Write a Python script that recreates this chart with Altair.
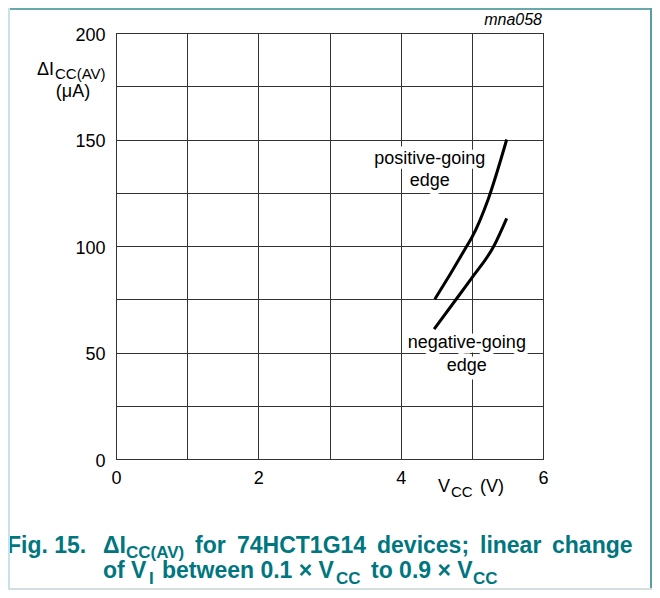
import altair as alt
import pandas as pd

# ---- data ----
vcc_pos = [4.48, 4.70, 4.93, 5.00, 5.23, 5.49]
icc_pos = [75, 87, 100, 104, 122, 150]
vcc_neg = [4.47, 4.78, 5.00, 5.31, 5.49]
icc_neg = [61, 75, 85, 100, 113]
x_ticks = [0, 1, 2, 3, 4, 5, 6]
y_ticks = [0, 25, 50, 75, 100, 125, 150, 175, 200]

curve_names = ["positive-going edge", "negative-going edge"]
label_lines = [["positive-going", "edge"], ["negative-going", "edge"]]
label_x = [4.41, 4.93]
label_y = [[138.5, 128.2], [52.1, 41.3]]

FONT = "Liberation Sans"
TEAL = "#00767f"

rows = []
for v, i in zip(vcc_pos, icc_pos):
    rows.append({"vcc": v, "icc": i, "edge": curve_names[0]})
for v, i in zip(vcc_neg, icc_neg):
    rows.append({"vcc": v, "icc": i, "edge": curve_names[1]})
curves = pd.DataFrame(rows)

lab_rows = []
for k in range(2):
    for j, t in enumerate(label_lines[k]):
        lab_rows.append({"vcc": label_x[k], "icc": label_y[k][j], "t": t})
labels = pd.DataFrame(lab_rows)

PX0, PY0 = 116, 33  # page position of plot origin

xs = alt.Scale(domain=[0, 6], nice=False, zero=True)
ys = alt.Scale(domain=[0, 200], nice=False, zero=True)

x_axis = alt.Axis(values=x_ticks, format="d",
                  labelExpr="datum.value % 2 == 0 ? datum.label : ''",
                  title=None, grid=True, ticks=False, domain=False, labelPadding=10,
                  labelAngle=0, labelFlush=False)
y_axis = alt.Axis(values=y_ticks, format="d",
                  labelExpr="datum.value % 50 == 0 ? datum.label : ''",
                  title=None, grid=True, ticks=False, domain=False, labelPadding=11,
                  labelOffset=2, labelFlush=False)

lines = alt.Chart(curves).mark_line(color="black", strokeWidth=3, interpolate="monotone").encode(
    x=alt.X("vcc:Q", scale=xs, axis=x_axis),
    y=alt.Y("icc:Q", scale=ys, axis=y_axis),
    detail="edge:N",
)

halo = alt.Chart(labels).mark_text(font=FONT, fontSize=18, align="center", baseline="alphabetic",
                                   stroke="white", strokeWidth=9, color="white").encode(
    x=alt.X("vcc:Q", scale=xs), y=alt.Y("icc:Q", scale=ys), text="t:N")
txt = alt.Chart(labels).mark_text(font=FONT, fontSize=18, align="center", baseline="alphabetic",
                                  color="black").encode(
    x=alt.X("vcc:Q", scale=xs), y=alt.Y("icc:Q", scale=ys), text="t:N")


def ptext(t, px, py, size, weight="normal", style="normal", color="black", align="left"):
    return alt.Chart(alt.Data(values=[{}])).mark_text(
        text=t, font=FONT, fontSize=size, fontWeight=weight, fontStyle=style,
        color=color, align=align, baseline="alphabetic").encode(
        x=alt.value(px - PX0), y=alt.value(py - PY0))


def hrule(px1, px2, py, color, w):
    return alt.Chart(alt.Data(values=[{}])).mark_rule(color=color, strokeWidth=w).encode(
        x=alt.value(px1 - PX0), x2=alt.value(px2 - PX0), y=alt.value(py - PY0))


def vrule(px, py1, py2, color, w):
    return alt.Chart(alt.Data(values=[{}])).mark_rule(color=color, strokeWidth=w).encode(
        x=alt.value(px - PX0), y=alt.value(py1 - PY0), y2=alt.value(py2 - PY0))


CAP, SUB = 23, 17
texts = [
    ptext("ΔI", 37, 75, 18),
    ptext("CC(AV)", 55, 79, 15),
    ptext("(μA)", 73, 97, 18, align="center"),
    ptext("V", 438, 492, 18),
    ptext("CC", 451, 497, 15),
    ptext("(V)", 480, 492, 18),
    ptext("mna058", 542, 25, 16, style="italic", align="right"),
    ptext("Fig. 15.", 7, 553, CAP, weight="bold", color=TEAL),
    ptext("ΔI", 103, 553, CAP, weight="bold", color=TEAL),
    ptext("CC(AV)", 126, 558, SUB, weight="bold", color=TEAL),
    ptext("for", 195, 553, CAP, weight="bold", color=TEAL),
    ptext("74HCT1G14", 237, 553, CAP, weight="bold", color=TEAL),
    ptext("devices;", 377, 553, CAP, weight="bold", color=TEAL),
    ptext("linear", 480, 553, CAP, weight="bold", color=TEAL),
    ptext("change", 552, 553, CAP, weight="bold", color=TEAL),
    ptext("of V", 103, 578, CAP, weight="bold", color=TEAL),
    ptext("I", 149, 584, SUB, weight="bold", color=TEAL),
    ptext("between 0.1 × V", 162, 578, CAP, weight="bold", color=TEAL),
    ptext("CC", 336, 584, SUB, weight="bold", color=TEAL),
    ptext("to 0.9 × V", 371, 578, CAP, weight="bold", color=TEAL),
    ptext("CC", 473, 584, SUB, weight="bold", color=TEAL),
]

frame = [
    hrule(8, 652, 9, "#6aa7ab", 2),
    vrule(9, 8, 590, "#c7e3e5", 2),
    vrule(651, 8, 590, "#5a9ea4", 2),
    hrule(8, 652, 589, "#d5dfe0", 2),
]

chart = alt.layer(lines, halo, txt, *texts, *frame).properties(
    width=427, height=426,
    padding={"left": 108, "top": 25, "right": 109, "bottom": 131},
    autosize=alt.AutoSizeParams(type="none"),
    background="white",
).configure_view(stroke="black", strokeWidth=1).configure_axis(
    gridColor="#333", gridWidth=1, gridOpacity=1,
    labelFont=FONT, labelFontSize=18, labelColor="black",
)

chart.save("out.html", embed_options={"renderer": "svg", "actions": False})
